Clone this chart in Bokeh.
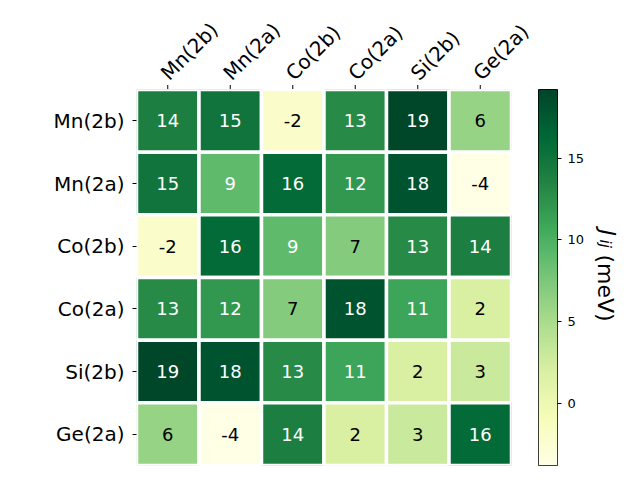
import math
import numpy as np
from bokeh.plotting import figure
from bokeh.layouts import row, column
from bokeh.models import (ColumnDataSource, LinearColorMapper, LinearAxis,
                          FixedTicker, Range1d)
from bokeh.core.properties import value
from bokeh.embed import file_html
from bokeh.resources import INLINE
from bokeh.palettes import YlGn9

# ---- data ----
sites = ["Mn(2b)", "Mn(2a)", "Co(2b)", "Co(2a)", "Si(2b)", "Ge(2a)"]
row_mn2b = [14, 15, -2, 13, 19, 6]
row_mn2a = [15, 9, 16, 12, 18, -4]
row_co2b = [-2, 16, 9, 7, 13, 14]
row_co2a = [13, 12, 7, 18, 11, 2]
row_si2b = [19, 18, 13, 11, 2, 3]
row_ge2a = [6, -4, 14, 2, 3, 16]
cbar_ticks = [0, 5, 10, 15]
vmin, vmax = -3.8, 19.2

rows = [row_mn2b, row_mn2a, row_co2b, row_co2a, row_si2b, row_ge2a]

# ---- palette (matplotlib-like YlGn, 256 steps) ----
base = list(reversed(YlGn9))
def hex2rgb(h):
    return np.array([int(h[i:i + 2], 16) for i in (1, 3, 5)], dtype=float)
base_rgb = np.array([hex2rgb(h) for h in base])
t = np.linspace(0, 1, 256)
pos = np.linspace(0, 1, len(base))
palette = []
for tt in t:
    c = [np.interp(tt, pos, base_rgb[:, k]) for k in range(3)]
    palette.append("#%02x%02x%02x" % tuple(int(round(v)) for v in c))

mapper = LinearColorMapper(palette=palette, low=vmin, high=vmax)

xs, ys, vals, labels, tcolors = [], [], [], [], []
for i, r in enumerate(rows):
    for j, v in enumerate(r):
        xs.append(sites[j])
        ys.append(sites[i])
        vals.append(v)
        labels.append(str(v))
        tcolors.append("white" if (v - vmin) / (vmax - vmin) > 0.5 else "black")

src = ColumnDataSource(dict(x=xs, y=ys, v=vals, label=labels, tc=tcolors))

FONT = "DejaVu Sans"
CELL = 375 / 6.0

# ---- heatmap ----
p = figure(x_range=sites, y_range=list(reversed(sites)),
           x_axis_location=None,
           frame_width=375, frame_height=376,
           min_border_left=136, min_border_right=27,
           min_border_top=0, min_border_bottom=15,
           output_backend="svg", toolbar_location=None)
p.rect(x="x", y="y", width=1, height=1, source=src,
       fill_color={"field": "v", "transform": mapper},
       line_color="white", line_width=3.5)
p.text(x="x", y="y", text="label", source=src, text_color="tc",
       text_align="center", text_baseline="middle",
       text_font=value(FONT), text_font_size="18px")
p.outline_line_color = None
p.grid.visible = False
p.yaxis.axis_line_color = None
p.yaxis.major_tick_in = 0
p.yaxis.major_tick_out = 4
p.yaxis.major_tick_line_color = "black"
p.yaxis.minor_tick_line_color = None
p.yaxis.major_label_text_font = FONT
p.yaxis.major_label_text_font_size = "20px"
p.yaxis.major_label_text_color = "black"
p.yaxis.major_label_standoff = 8

# ---- top strip: ticks and rotated column labels ----
top = figure(x_range=Range1d(0, 504 / CELL), y_range=Range1d(0, 89),
             x_axis_location=None, y_axis_location=None,
             frame_width=504, frame_height=89,
             min_border_left=136, min_border_right=0,
             min_border_top=0, min_border_bottom=0,
             output_backend="svg", toolbar_location=None)
top.outline_line_color = None
top.grid.visible = False
col_pos = [i + 0.5 for i in range(len(sites))]
top_src = ColumnDataSource(dict(x=col_pos, text=sites))
top.segment(x0="x", y0=0, x1="x", y1=4.5, source=top_src,
            line_color="black", line_width=1)
top.text(x="x", y=13, text="text", source=top_src, angle=math.pi / 4,
         x_offset=-3.5,
         text_align="left", text_baseline="alphabetic",
         text_font=value(FONT), text_font_size="20px", text_color="black")

# ---- colour bar ----
cb = figure(x_range=(0, 1), y_range=(vmin, vmax),
            frame_width=19, frame_height=376,
            min_border_left=0, min_border_right=30,
            min_border_top=0, min_border_bottom=15,
            output_backend="svg", toolbar_location=None)
grad = np.linspace(vmin, vmax, 256).reshape(256, 1)
cb.image(image=[grad], x=0, y=vmin, dw=1, dh=vmax - vmin, color_mapper=mapper)
cb.xaxis.visible = False
cb.yaxis.visible = False
cb.grid.visible = False
cb.outline_line_color = "black"
cb.outline_line_width = 1
rax = LinearAxis(ticker=FixedTicker(ticks=cbar_ticks))
rax.axis_line_color = None
rax.major_tick_in = 0
rax.major_tick_out = 4
rax.minor_tick_line_color = None
rax.major_label_text_font = FONT
rax.major_label_text_font_size = "13px"
rax.major_label_text_color = "black"
rax.major_label_standoff = 6
cb.add_layout(rax, "right")

# ---- colour-bar title J_ij (meV), reading downwards ----
lab = figure(x_range=Range1d(0, 53), y_range=Range1d(0, 391),
             x_axis_location=None, y_axis_location=None,
             frame_width=53, frame_height=391,
             min_border_left=0, min_border_right=0,
             min_border_top=0, min_border_bottom=0,
             output_backend="svg", toolbar_location=None)
lab.outline_line_color = None
lab.grid.visible = False
ang = -math.pi / 2
lab.text(x=[20], y=[251], text=["J"], angle=ang, text_align="left",
         text_baseline="alphabetic", text_font=value(FONT),
         text_font_size="22px", text_font_style="italic", text_color="black")
lab.text(x=[17], y=[241], text=["ij"], angle=ang, text_align="left",
         text_baseline="alphabetic", text_font=value(FONT),
         text_font_size="15px", text_font_style="italic", text_color="black")
lab.text(x=[18], y=[226], text=["(meV)"], angle=ang, text_align="left",
         text_baseline="alphabetic", text_font=value(FONT),
         text_font_size="22px", text_color="black")

layout = column(top, row(p, cb, lab))
open("out.html", "w").write(file_html(layout, INLINE))
